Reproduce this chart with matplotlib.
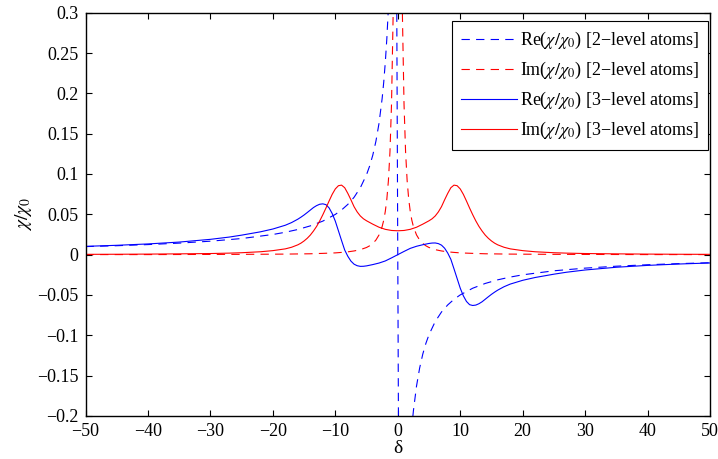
import matplotlib
matplotlib.use('Agg')
import matplotlib.pyplot as plt
from matplotlib.ticker import FuncFormatter

plt.rcParams['font.family'] = ['Liberation Serif', 'DejaVu Serif']
plt.rcParams['mathtext.fontset'] = 'stix'
plt.rcParams['lines.scale_dashes'] = False

# detuning grid and susceptibility of 2-level atoms
delta_2 = [-50, -45, -40, -35, -30, -25, -20, -18, -16, -14, -12, -10, -9, -8, -7, -6,
           -5, -4.5, -4, -3.5, -3, -2.5, -2.25, -2, -1.75, -1.5, -1.25, -1, -0.75, -0.45, -0.25, 0,
           0.25, 0.45, 0.75, 1, 1.25, 1.5, 1.75, 2, 2.25, 2.5, 3, 3.5, 4, 4.5,
           5, 6, 7, 8, 9, 10, 12, 14, 16, 18, 20, 25, 30, 35, 40, 45, 50]
re_2 = [0.0100, 0.0111, 0.0125, 0.0143, 0.0167, 0.0200, 0.0250, 0.0278, 0.0312, 0.0357, 0.0416,
        0.0499, 0.0554, 0.0623, 0.0711, 0.0829, 0.0992, 0.1100, 0.1234, 0.1406, 0.1630, 0.1938,
        0.2137, 0.2381, 0.2680, 0.3061, 0.3541, 0.4158, 0.4902, 0.5556, 0.4717, 0.0,
        -0.4717, -0.5556, -0.4902, -0.4158, -0.3541, -0.3061, -0.2680, -0.2381, -0.2137, -0.1938,
        -0.1630, -0.1406, -0.1234, -0.1100, -0.0992, -0.0829, -0.0711, -0.0623, -0.0554, -0.0499,
        -0.0416, -0.0357, -0.0312, -0.0278, -0.0250, -0.0200, -0.0167, -0.0143, -0.0125, -0.0111,
        -0.0100]
im_2 = [0.0001, 0.0001, 0.0001, 0.0002, 0.0003, 0.0004, 0.0006, 0.0007, 0.0009, 0.0011, 0.0016,
        0.0022, 0.0028, 0.0035, 0.0046, 0.0062, 0.0089, 0.0110, 0.0139, 0.0181, 0.0245, 0.0349,
        0.0427, 0.0535, 0.0689, 0.0917, 0.1275, 0.187, 0.294, 0.556, 0.849, 1.111,
        0.849, 0.556, 0.294, 0.187, 0.1275, 0.0917, 0.0689, 0.0535, 0.0427, 0.0349,
        0.0245, 0.0181, 0.0139, 0.0110, 0.0089, 0.0062, 0.0046, 0.0035, 0.0028, 0.0022,
        0.0016, 0.0011, 0.0009, 0.0007, 0.0006, 0.0004, 0.0003, 0.0002, 0.0001, 0.0001,
        0.0001]

# detuning grid and susceptibility of 3-level atoms (EIT)
delta_3 = [-50, -45, -40, -35, -30, -27, -25, -22, -20, -18, -17, -16, -15.5, -15, -14.5, -14,
           -13.5, -13, -12.5, -12, -11.5, -11, -10.5, -10, -9.5, -9, -8.5, -8, -7.5, -7, -6.5,
           -6, -5.5, -5, -4, -3, -2, -1, 0,
           1, 2, 3, 4, 5, 5.5, 6, 6.5, 7, 7.5, 8, 8.5, 9, 9.5, 10, 10.5, 11, 11.5, 12,
           12.5, 13, 13.5, 14, 14.5, 15, 15.5, 16, 17, 18, 20, 22, 25, 27, 30, 35, 40, 45, 50]
re_3 = [0.0103, 0.0116, 0.0133, 0.0156, 0.0190, 0.0218, 0.0242, 0.0283, 0.0318, 0.0365, 0.0398,
        0.0440, 0.0465, 0.0492, 0.0522, 0.0553, 0.0584, 0.0608, 0.0625, 0.0630, 0.0620, 0.0580,
        0.0510, 0.0415, 0.0295, 0.0175, 0.0058, -0.0020, -0.0080, -0.0118, -0.0137,
        -0.0145, -0.0144, -0.0139, -0.0123, -0.0104, -0.0078, -0.0040, 0.0,
        0.0040, 0.0078, 0.0104, 0.0123, 0.0139, 0.0144, 0.0145, 0.0137, 0.0118, 0.0080, 0.0020,
        -0.0058, -0.0175, -0.0295, -0.0415, -0.0510, -0.0580, -0.0620, -0.0630,
        -0.0625, -0.0608, -0.0584, -0.0553, -0.0522, -0.0492, -0.0465, -0.0440, -0.0398, -0.0365,
        -0.0318, -0.0283, -0.0242, -0.0218, -0.0190, -0.0156, -0.0133, -0.0116, -0.0103]
im_3 = [0.0004, 0.0005, 0.0007, 0.0010, 0.0014, 0.0019, 0.0024, 0.0036, 0.0050, 0.0072, 0.0092,
        0.0122, 0.0143, 0.0170, 0.0203, 0.0243, 0.0293, 0.0350, 0.0418, 0.0495, 0.0578, 0.0665,
        0.0748, 0.0815, 0.0855, 0.0862, 0.0830, 0.0760, 0.0680, 0.0595, 0.0530,
        0.0480, 0.0445, 0.0420, 0.0378, 0.0340, 0.0314, 0.0300, 0.0296,
        0.0300, 0.0314, 0.0340, 0.0378, 0.0420, 0.0445, 0.0480, 0.0530, 0.0595, 0.0680, 0.0760,
        0.0830, 0.0862, 0.0855, 0.0815, 0.0748, 0.0665, 0.0578, 0.0495,
        0.0418, 0.0350, 0.0293, 0.0243, 0.0203, 0.0170, 0.0143, 0.0122, 0.0092, 0.0072,
        0.0050, 0.0036, 0.0024, 0.0019, 0.0014, 0.0010, 0.0007, 0.0005, 0.0004]

x_ticks = [-50, -40, -30, -20, -10, 0, 10, 20, 30, 40, 50]
y_ticks = [-0.2, -0.15, -0.1, -0.05, 0, 0.05, 0.1, 0.15, 0.2, 0.25, 0.3]

chi = r'$\chi/\chi_{\mathit{0}}$'
labels = ['Re(' + chi + ') [2\u2212level atoms]',
          'Im(' + chi + ') [2\u2212level atoms]',
          'Re(' + chi + ') [3\u2212level atoms]',
          'Im(' + chi + ') [3\u2212level atoms]']

fig = plt.figure(figsize=(7.18, 4.59), dpi=100)
ax = fig.add_axes([0.1191, 0.0937, 0.8698, 0.8787])

dash = (0, (6, 4.5))
ax.plot(delta_2, re_2, color='#0000ff', lw=0.8, linestyle=dash, label=labels[0])
ax.plot(delta_2, im_2, color='#ff0000', lw=0.8, linestyle=dash, label=labels[1])
ax.plot(delta_3, re_3, color='#0000ff', lw=0.8, label=labels[2])
ax.plot(delta_3, im_3, color='#ff0000', lw=0.8, label=labels[3])

ax.set_xlim(-50, 50)
ax.set_ylim(-0.2, 0.3)
ax.set_xticks(x_ticks)
ax.set_yticks(y_ticks)


def fmt(v, pos):
    if abs(v) < 1e-9:
        return '0'
    return ('%g' % round(v, 2)).replace('-', '\u2212')


ax.yaxis.set_major_formatter(FuncFormatter(fmt))
ax.xaxis.set_major_formatter(FuncFormatter(fmt))
ax.tick_params(direction='in', top=True, right=True, length=4, width=0.8,
               labelsize=13, pad=5)
for s in ax.spines.values():
    s.set_linewidth(1.0)

ax.set_xlabel('δ', fontsize=14, labelpad=0)
ax.set_ylabel(chi, fontsize=14, labelpad=2)

leg = ax.legend(loc='upper right', bbox_to_anchor=(0.997, 0.980), borderaxespad=0,
                fontsize=13, handlelength=3.1, handletextpad=0.15, labelspacing=0.5,
                borderpad=0.5, fancybox=False, framealpha=1, edgecolor='black')
leg.get_frame().set_linewidth(0.8)

fig.savefig('out.png', dpi=100)
